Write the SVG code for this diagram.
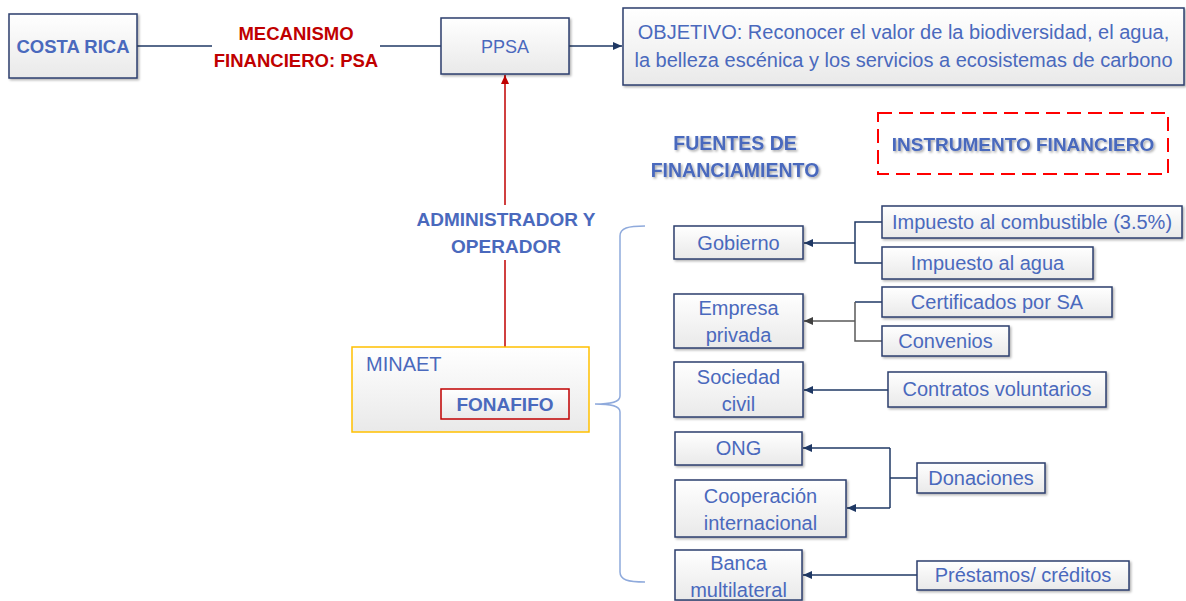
<svg xmlns="http://www.w3.org/2000/svg" width="1186" height="601" viewBox="0 0 1186 601">
<defs>
<linearGradient id="g" x1="0" y1="0" x2="0" y2="1">
<stop offset="0" stop-color="#ffffff"/>
<stop offset="1" stop-color="#e9e9e9"/>
</linearGradient>
<filter id="sh" x="-10%" y="-10%" width="120%" height="130%">
<feDropShadow dx="1.5" dy="1.5" stdDeviation="1" flood-color="#000" flood-opacity="0.3"/>
</filter>
<filter id="tsh" x="-5%" y="-20%" width="110%" height="150%">
<feDropShadow dx="1.5" dy="1.5" stdDeviation="0.8" flood-color="#000" flood-opacity="0.35"/>
</filter>
<marker id="an" markerUnits="userSpaceOnUse" markerWidth="10" markerHeight="10" refX="9" refY="4" orient="auto">
<path d="M0,0 L9,4 L0,8 z" fill="#1F3864"/>
</marker>
<marker id="ag" markerUnits="userSpaceOnUse" markerWidth="10" markerHeight="10" refX="9" refY="4" orient="auto">
<path d="M0,0 L9,4 L0,8 z" fill="#404040"/>
</marker>
<marker id="ar" markerUnits="userSpaceOnUse" markerWidth="10" markerHeight="10" refX="9" refY="4" orient="auto">
<path d="M0,0 L9,4 L0,8 z" fill="#C00000"/>
</marker>
</defs>
<style>
.box{fill:url(#g);stroke:#2B3F6E;stroke-width:1.5;filter:url(#sh)}
.t{font-family:"Liberation Sans",Arial,sans-serif;font-size:20px;fill:#4A69BD;text-anchor:middle}
.b{font-weight:bold;font-size:19px}
.red{fill:#C00000}
.c{fill:none;stroke:#1F3864;stroke-width:1.5}
.cg{fill:none;stroke:#595959;stroke-width:1.5}
</style>

<g id="connectors">
<path class="c" d="M137,46 H212"/>
<path class="c" d="M380,46 H455" marker-end="url(#an)"/>
<path class="c" d="M569,46 H622" marker-end="url(#an)"/>
<path d="M505,389 V260" fill="none" stroke="#C00000" stroke-width="1.5"/>
<path d="M505,205 V75" fill="none" stroke="#C00000" stroke-width="1.5" marker-end="url(#ar)"/>
<path d="M645,226 C628,226 620,228 620,236 L620,396 C620,402 612,404 595,404 C612,404 620,406 620,412 L620,572 C620,580 628,582 645,582" fill="none" stroke="#8FAADC" stroke-width="1.5"/>
<path class="c" d="M882,222 H855 V263 H882"/>
<path class="c" d="M855,243 H804" marker-end="url(#an)"/>
<path class="c" d="M882,302 H855"/>
<path class="cg" d="M855,302 V341 H882"/>
<path class="cg" d="M855,321 H804" marker-end="url(#ag)"/>
<path class="c" d="M888,390 H804" marker-end="url(#an)"/>
<path class="c" d="M917,478 H890"/>
<path class="c" d="M890,448 V508"/>
<path class="c" d="M890,448 H803" marker-end="url(#an)"/>
<path class="c" d="M890,508 H847" marker-end="url(#an)"/>
<path class="c" d="M917,575 H803" marker-end="url(#an)"/>
</g>

<g id="costa-rica">
<rect class="box" x="9" y="14" width="128" height="64"/>
<text class="t b" x="73" y="52.5" style="font-size:18.5px">COSTA RICA</text>
</g>

<g id="mecanismo">
<text class="t b red" x="296" y="39.5" style="font-size:18.5px">MECANISMO</text>
<text class="t b red" x="296" y="66.5" style="font-size:18.5px">FINANCIERO: PSA</text>
</g>

<g id="ppsa">
<rect class="box" x="441" y="18" width="128" height="56"/>
<text class="t" x="505" y="52.5" style="font-size:18px">PPSA</text>
</g>

<g id="objetivo">
<rect class="box" x="623" y="8" width="561" height="77"/>
<text class="t" x="903.5" y="39">OBJETIVO: Reconocer el valor de la biodiversidad, el agua,</text>
<text class="t" x="903.5" y="67">la belleza escénica y los servicios a ecosistemas de carbono</text>
</g>

<g id="fuentes">
<text class="t b" x="735" y="150" filter="url(#tsh)" style="font-size:19.5px">FUENTES DE</text>
<text class="t b" x="735" y="177" filter="url(#tsh)" style="font-size:19.5px">FINANCIAMIENTO</text>
</g>

<g id="instrumento">
<rect x="878" y="113" width="290" height="61" fill="#ffffff" stroke="#FF0000" stroke-width="2" stroke-dasharray="14 7"/>
<text class="t b" x="1023" y="151" filter="url(#tsh)">INSTRUMENTO FINANCIERO</text>
</g>

<g id="administrador">
<text class="t b" x="506" y="226">ADMINISTRADOR Y</text>
<text class="t b" x="506" y="253">OPERADOR</text>
</g>

<g id="minaet">
<rect x="352" y="347" width="237" height="85" fill="url(#g)" stroke="#FFC000" stroke-width="1.5"/>
<text class="t" x="366" y="371" style="text-anchor:start">MINAET</text>
</g>

<g id="fonafifo">
<rect x="441" y="389" width="128" height="30" fill="url(#g)" stroke="#C00000" stroke-width="1.5"/>
<text class="t b" x="505" y="411">FONAFIFO</text>
</g>

<g id="gobierno">
<rect class="box" x="674" y="226" width="129" height="33"/>
<text class="t" x="738.5" y="250">Gobierno</text>
</g>
<g id="impuesto-combustible">
<rect class="box" x="882" y="206" width="300" height="32"/>
<text class="t" x="1032" y="229">Impuesto al combustible (3.5%)</text>
</g>
<g id="impuesto-agua">
<rect class="box" x="882" y="247" width="211" height="32"/>
<text class="t" x="987.5" y="270">Impuesto al agua</text>
</g>

<g id="empresa">
<rect class="box" x="674" y="294" width="129" height="54"/>
<text class="t" x="738.5" y="315">Empresa</text>
<text class="t" x="738.5" y="342">privada</text>
</g>
<g id="certificados">
<rect class="box" x="882" y="287" width="230" height="30"/>
<text class="t" x="997" y="309">Certificados por SA</text>
</g>
<g id="convenios">
<rect class="box" x="882" y="326" width="127" height="30"/>
<text class="t" x="945.5" y="348">Convenios</text>
</g>

<g id="sociedad">
<rect class="box" x="674" y="362" width="129" height="55"/>
<text class="t" x="738.5" y="384">Sociedad</text>
<text class="t" x="738.5" y="411">civil</text>
</g>
<g id="contratos">
<rect class="box" x="888" y="372" width="218" height="35"/>
<text class="t" x="997" y="396">Contratos voluntarios</text>
</g>

<g id="ong">
<rect class="box" x="675" y="432" width="127" height="33"/>
<text class="t" x="738.5" y="455">ONG</text>
</g>
<g id="cooperacion">
<rect class="box" x="675" y="480" width="171" height="57"/>
<text class="t" x="760.5" y="503">Cooperación</text>
<text class="t" x="760.5" y="530">internacional</text>
</g>
<g id="donaciones">
<rect class="box" x="917" y="463" width="128" height="30"/>
<text class="t" x="981" y="485">Donaciones</text>
</g>

<g id="banca">
<rect class="box" x="675" y="550" width="127" height="50"/>
<text class="t" x="738.5" y="570">Banca</text>
<text class="t" x="738.5" y="597">multilateral</text>
</g>
<g id="prestamos">
<rect class="box" x="917" y="561" width="212" height="29"/>
<text class="t" x="1023" y="582">Préstamos/ créditos</text>
</g>
</svg>
